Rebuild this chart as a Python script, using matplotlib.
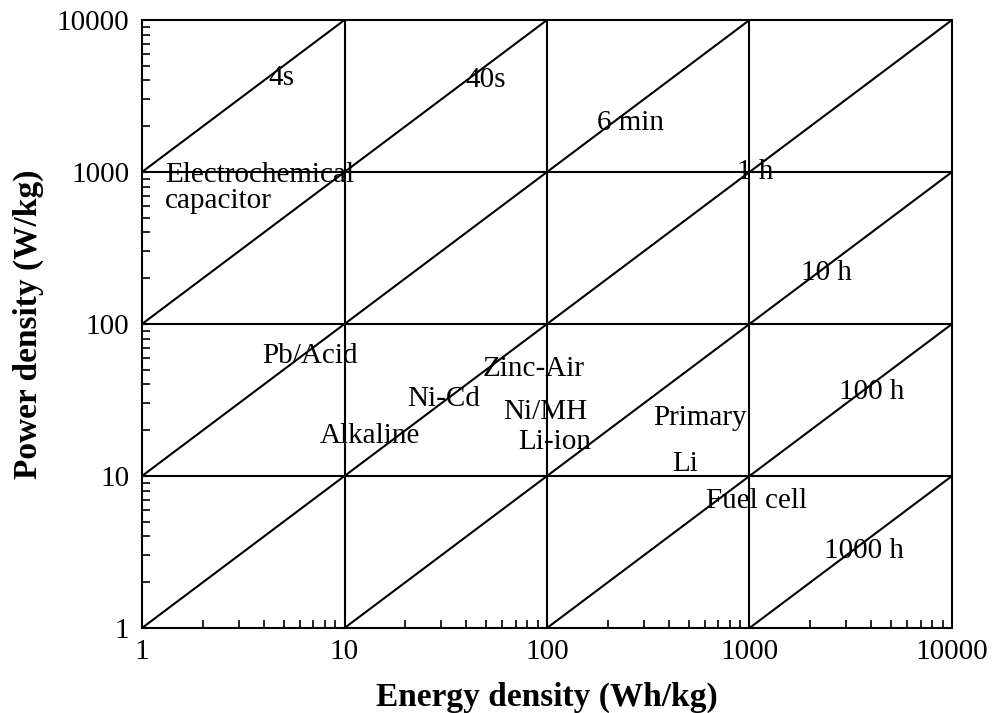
import numpy as np
import matplotlib
matplotlib.use("Agg")
import matplotlib.pyplot as plt
from matplotlib.ticker import LogLocator, NullFormatter, FixedLocator, FixedFormatter

# Discharge-time lines (hours): P = E / t
line_times_h = [0.001, 0.01, 0.1, 1, 10, 100, 1000]

# Time labels and their (E, P) positions
time_labels = ["4s", "40s", "6 min", "1 h", "10 h", "100 h", "1000 h"]
time_label_E = [4.9, 50, 257, 1064, 2390, 4030, 3680]
time_label_P = [4150, 4030, 2100, 1000, 217, 35.7, 3.2]

# Technology labels and their (E, P) positions
tech_labels = ["Pb/Acid", "Zinc-Air", "Ni-Cd", "Ni/MH", "Alkaline", "Li-ion",
               "Primary", "Li", "Fuel cell"]
tech_E = [6.76, 86.3, 31, 97.8, 13.4, 109.5, 570, 480, 1089]
tech_P = [61.5, 50.6, 32.1, 26.4, 18.3, 16.7, 24.1, 12.0, 6.85]

cap_label = "Electrochemical\ncapacitor"
cap_E, cap_P = 1.3, 780

axis_ticks = [1, 10, 100, 1000, 10000]
tick_labels = ["1", "10", "100", "1000", "10000"]

plt.rcParams['font.family'] = ['Liberation Serif', 'DejaVu Serif']

W, H = 993, 713
fig = plt.figure(figsize=(W / 100, H / 100), dpi=100)
ax = fig.add_axes([142/W, 1-628/H, (952-142)/W, (628-20)/H])
ax.set_xscale('log')
ax.set_yscale('log')
ax.set_xlim(1, 10000)
ax.set_ylim(1, 10000)

lw = 1.5
# Grid lines at decades
for v in axis_ticks[1:-1]:
    ax.axvline(v, color='black', lw=lw)
    ax.axhline(v, color='black', lw=lw)

# Constant-time diagonals
for t in line_times_h:
    e0 = max(1.0, t * 1.0)
    e1 = min(10000.0, t * 10000.0)
    ax.plot([e0, e1], [e0 / t, e1 / t], color='black', lw=lw, solid_capstyle='butt')

fs = 21
for lab, e, p in zip(time_labels, time_label_E, time_label_P):
    ax.text(e, p, lab, ha='center', va='center', fontsize=fs)
for lab, e, p in zip(tech_labels, tech_E, tech_P):
    ax.text(e, p, lab, ha='center', va='center', fontsize=fs)
ax.text(cap_E, cap_P, cap_label, ha='left', va='center', fontsize=fs, linespacing=1.0)

for s in ax.spines.values():
    s.set_linewidth(lw)

ax.xaxis.set_major_locator(FixedLocator(axis_ticks))
ax.xaxis.set_major_formatter(FixedFormatter(tick_labels))
ax.yaxis.set_major_locator(FixedLocator(axis_ticks))
ax.yaxis.set_major_formatter(FixedFormatter(tick_labels))
ax.xaxis.set_minor_locator(LogLocator(base=10, subs=np.arange(2, 10)))
ax.yaxis.set_minor_locator(LogLocator(base=10, subs=np.arange(2, 10)))
ax.xaxis.set_minor_formatter(NullFormatter())
ax.yaxis.set_minor_formatter(NullFormatter())
ax.tick_params(which='major', direction='in', length=0, labelsize=fs, pad=8)
ax.tick_params(which='minor', direction='in', length=6, width=1.2)
ax.tick_params(axis='y', which='major', pad=9)

fig.text(547/W, 1 - 697/H, "Energy density (Wh/kg)", fontsize=24, fontweight='bold',
         ha='center', va='center')
fig.text(28/W, 1 - 324/H, "Power density (W/kg)", fontsize=24, fontweight='bold',
         ha='center', va='center', rotation=90)

fig.savefig("out.png", dpi=100)
